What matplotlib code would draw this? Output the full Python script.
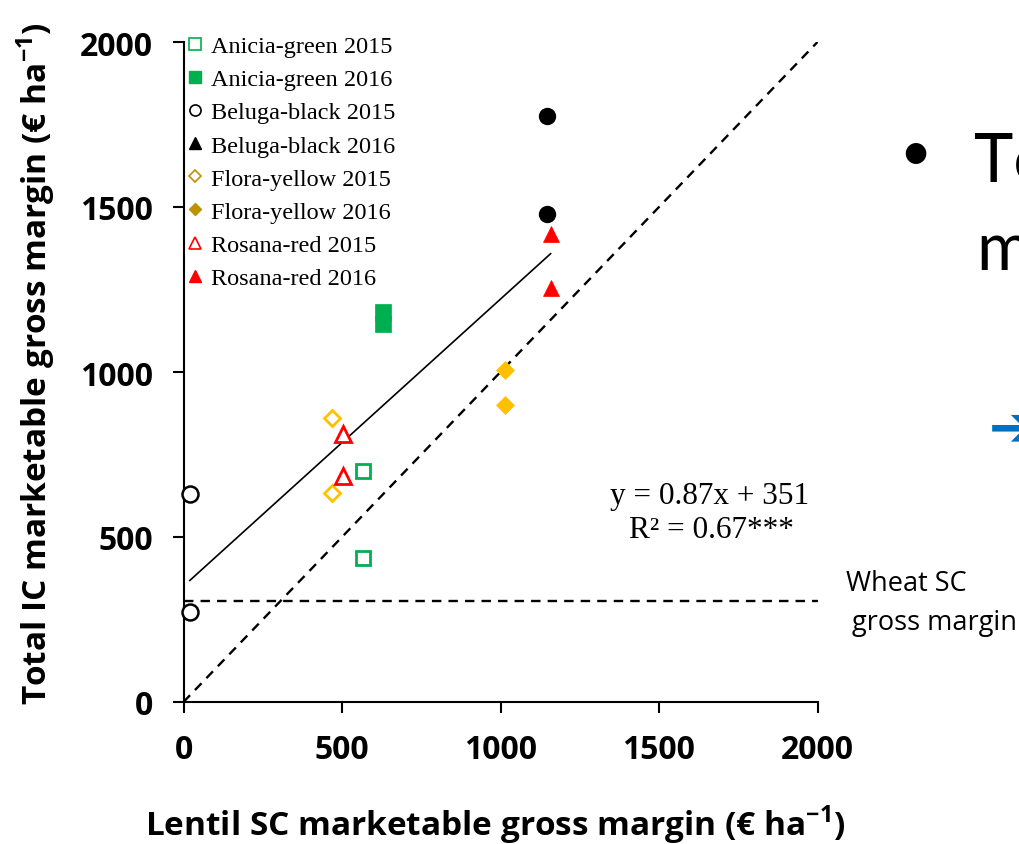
import matplotlib
matplotlib.use("Agg")
import matplotlib.pyplot as plt
from matplotlib.lines import Line2D
import numpy as np

plt.rcParams['mathtext.fontset'] = 'custom'
plt.rcParams['mathtext.rm'] = 'Open Sans'
plt.rcParams['mathtext.bf'] = 'Open Sans:bold'

# lentil sole-crop margin (x) vs intercrop margin (y), euro per ha
anicia_2015_x = [566, 566]
anicia_2015_y = [700, 436]
anicia_2016_x = [629, 629]
anicia_2016_y = [1182, 1145]
beluga_2015_x = [20, 20]
beluga_2015_y = [630, 273]
beluga_2016_x = [1146, 1146]
beluga_2016_y = [1776, 1479]
flora_2015_x = [467, 467]
flora_2015_y = [862, 632]
flora_2016_x = [1013, 1013]
flora_2016_y = [1006, 900]
rosana_2015_x = [502, 502]
rosana_2015_y = [812, 686]
rosana_2016_x = [1158, 1158]
rosana_2016_y = [1418, 1255]

slope, intercept = 0.87, 351
wheat_sc_margin = 305
axis_max = 2000
ticks = [0, 500, 1000, 1500, 2000]

GREEN = '#00B050'
GOLD = '#FFC000'
GOLD_DARK = '#BF9000'
RED = '#FF0000'

fig = plt.figure(figsize=(10.19, 8.45), dpi=100)
ax = fig.add_axes([183.5 / 1019, 1 - 703 / 845, 634 / 1019, 660 / 845])

# reference lines: 1:1 and wheat sole crop
ax.plot([0, axis_max], [0, axis_max], ls=(0, (4, 3)), color='black', lw=1.7)
ax.plot([0, axis_max], [wheat_sc_margin, wheat_sc_margin], ls=(0, (4, 3)),
        color='black', lw=1.7)

all_x = (anicia_2015_x + anicia_2016_x + beluga_2015_x + beluga_2016_x
         + flora_2015_x + flora_2016_x + rosana_2015_x + rosana_2016_x)
fit_x = np.array([min(all_x), max(all_x)])
ax.plot(fit_x, slope * fit_x + intercept, color='black', lw=1.2)

kw = dict(ls='none', clip_on=False, zorder=3)
ax.plot(anicia_2015_x, anicia_2015_y, marker='s', ms=10.5, mfc='white', mec=GREEN, mew=2, **kw)
ax.plot(anicia_2016_x, anicia_2016_y, marker='s', ms=11, mfc=GREEN, mec=GREEN, mew=0.5, **kw)
ax.plot(beluga_2015_x, beluga_2015_y, marker='o', ms=11.5, mfc='white', mec='black', mew=1.8, **kw)
ax.plot(beluga_2016_x, beluga_2016_y, marker='o', ms=11.5, mfc='black', mec='black', **kw)
ax.plot(flora_2015_x, flora_2015_y, marker='D', ms=8.5, mfc='white', mec=GOLD, mew=2, **kw)
ax.plot(flora_2016_x, flora_2016_y, marker='D', ms=9, mfc=GOLD, mec=GOLD, mew=0.5, **kw)
ax.plot(rosana_2015_x, rosana_2015_y, marker='^', ms=12, mfc='white', mec=RED, mew=2, **kw)
ax.plot(rosana_2016_x, rosana_2016_y, marker='^', ms=12, mfc=RED, mec=RED, mew=0.5, **kw)

ax.set_xlim(0, axis_max)
ax.set_ylim(0, axis_max)
ax.set_xticks(ticks)
ax.set_yticks(ticks)
for s in ['top', 'right']:
    ax.spines[s].set_visible(False)
for s in ['left', 'bottom']:
    ax.spines[s].set_linewidth(1.5)
ax.tick_params(direction='out', length=8, width=1.5, pad=14)
for lab in ax.get_xticklabels() + ax.get_yticklabels():
    lab.set_fontfamily('Open Sans')
    lab.set_fontweight('bold')
    lab.set_fontsize(23)

# legend handles drawn small, as in the original chart
handles = [
    Line2D([], [], ls='none', marker='s', ms=8, mfc='white', mec=GREEN, mew=1.2),
    Line2D([], [], ls='none', marker='s', ms=8, mfc=GREEN, mec=GREEN),
    Line2D([], [], ls='none', marker='o', ms=8, mfc='white', mec='black', mew=1.2),
    Line2D([], [], ls='none', marker='^', ms=9, mfc='black', mec='black'),
    Line2D([], [], ls='none', marker='D', ms=6.5, mfc='white', mec=GOLD_DARK, mew=1.2),
    Line2D([], [], ls='none', marker='D', ms=6.5, mfc=GOLD_DARK, mec=GOLD_DARK),
    Line2D([], [], ls='none', marker='^', ms=9, mfc='white', mec=RED, mew=1.2),
    Line2D([], [], ls='none', marker='^', ms=9, mfc=RED, mec=RED),
]
labels = ['Anicia-green 2015', 'Anicia-green 2016', 'Beluga-black 2015',
          'Beluga-black 2016', 'Flora-yellow 2015', 'Flora-yellow 2016',
          'Rosana-red 2015', 'Rosana-red 2016']
leg = fig.legend(handles, labels, loc='upper left',
                 bbox_to_anchor=(188 / 1019, 1 - 36 / 845), frameon=False,
                 prop={'family': 'Liberation Serif', 'size': 17.5},
                 handlelength=0.6, handletextpad=0.35, borderpad=0,
                 borderaxespad=0, labelspacing=0.46)

eq_kw = dict(family='Liberation Serif', fontsize=22.5, ha='center', va='center')
fig.text(710 / 1019, 1 - 497 / 845, f'y = {slope}x + {intercept}', **eq_kw)
fig.text(711 / 1019, 1 - 531 / 845, 'R² = 0.67***', **eq_kw)

label_kw = dict(family='Open Sans', fontweight='bold', fontsize=24,
                ha='center', va='center')
fig.text(495 / 1019, 1 - 825 / 845,
         r'Lentil SC marketable gross margin (€ ha$^{\mathbf{-1}}$)', **label_kw)
fig.text(36 / 1019, 1 - 364 / 845,
         r'Total IC marketable gross margin (€ ha$^{\mathbf{-1}}$)', rotation=90,
         **label_kw)

fig.text(846 / 1019, 1 - 591 / 845, 'Wheat SC', family='Open Sans',
         fontsize=19.5, ha='left', va='baseline')
fig.text(852 / 1019, 1 - 630 / 845, 'gross margin', family='Open Sans',
         fontsize=19.5, ha='left', va='baseline')

# slide text running off the right edge
fig.text(915 / 1019, 1 - 155 / 845, '•', family='Lato', fontsize=40,
         ha='center', va='center')
fig.text(974 / 1019, 1 - 182 / 845, 'To', family='Lato', fontsize=48,
         ha='left', va='baseline')
fig.text(976 / 1019, 1 - 270 / 845, 'm', family='Lato', fontsize=48,
         ha='left', va='baseline')
fig.text(989 / 1019, 1 - 430 / 845, '➔', family='DejaVu Sans',
         fontsize=40, color='#0070C0', ha='left', va='center')

fig.savefig('out.png', dpi=100)
